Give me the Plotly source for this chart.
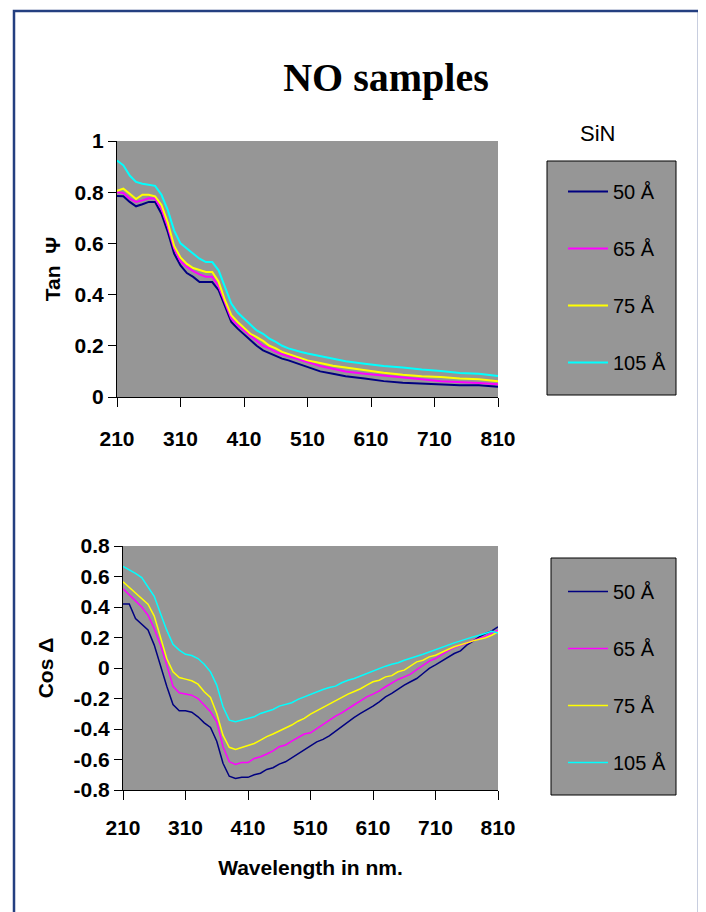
import plotly.graph_objects as go

# ---------------- data ----------------
series_names = ["50 Å", "65 Å", "75 Å", "105 Å"]
series_colors = ["#000080", "#FF00FF", "#FFFF00", "#00FFFF"]

wl_tan = [210, 220, 230, 240, 250, 260, 270, 280, 290, 300,
          310, 320, 330, 340, 350, 360, 370, 380, 390, 400,
          410, 420, 430, 440, 450, 460, 470, 480, 490, 500,
          510, 530, 550, 570, 600, 630, 660, 690, 720, 750, 780, 810]

tan_50 = [0.785, 0.784, 0.762, 0.745, 0.753, 0.762, 0.762, 0.716, 0.645, 0.56,
          0.514, 0.484, 0.469, 0.449, 0.449, 0.449, 0.417, 0.352, 0.293, 0.267,
          0.245, 0.221, 0.2, 0.182, 0.172, 0.159, 0.15, 0.143, 0.134, 0.124,
          0.115, 0.10, 0.091, 0.081, 0.072, 0.062, 0.056, 0.052, 0.05, 0.046, 0.046, 0.04]
tan_65 = [0.80, 0.797, 0.775, 0.762, 0.768, 0.776, 0.775, 0.735, 0.664, 0.58,
          0.53, 0.508, 0.492, 0.479, 0.47, 0.47, 0.432, 0.365, 0.306, 0.28,
          0.26, 0.237, 0.219, 0.2, 0.19, 0.176, 0.167, 0.159, 0.15, 0.143,
          0.134, 0.121, 0.11, 0.10, 0.091, 0.083, 0.075, 0.069, 0.062, 0.059, 0.055, 0.05]
tan_75 = [0.805, 0.814, 0.794, 0.773, 0.79, 0.79, 0.784, 0.75, 0.68, 0.59,
          0.545, 0.52, 0.504, 0.495, 0.488, 0.488, 0.45, 0.378, 0.32, 0.293,
          0.27, 0.247, 0.234, 0.219, 0.2, 0.19, 0.176, 0.167, 0.16, 0.152,
          0.143, 0.133, 0.122, 0.115, 0.104, 0.095, 0.087, 0.081, 0.078, 0.072, 0.069, 0.062]
tan_105 = [0.924, 0.905, 0.865, 0.84, 0.833, 0.83, 0.825, 0.79, 0.73, 0.65,
           0.60, 0.58, 0.56, 0.54, 0.527, 0.527, 0.495, 0.43, 0.365, 0.33,
           0.306, 0.286, 0.26, 0.247, 0.228, 0.215, 0.2, 0.19, 0.182, 0.176,
           0.17, 0.16, 0.152, 0.14, 0.13, 0.121, 0.115, 0.107, 0.102, 0.094, 0.091, 0.082]

wl_cos = [210, 220, 230, 240, 250, 260, 270, 280, 290, 300,
          310, 320, 330, 340, 350, 360, 370, 380, 390, 400,
          410, 420, 430, 440, 450, 460, 470, 480, 490, 500,
          510, 520, 530, 540, 550, 560, 570, 580, 590, 600,
          610, 620, 630, 640, 650, 660, 670, 680, 690, 700,
          710, 720, 730, 740, 750, 760, 770, 780, 790, 800, 810]

cos_50 = [0.42, 0.42, 0.325, 0.29, 0.25, 0.15, 0.01, -0.12, -0.24, -0.28,
          -0.28, -0.29, -0.32, -0.36, -0.39, -0.48, -0.625, -0.71, -0.725, -0.717,
          -0.717, -0.70, -0.69, -0.665, -0.654, -0.63, -0.615, -0.59, -0.56, -0.54,
          -0.51, -0.484, -0.468, -0.445, -0.414, -0.385, -0.357, -0.324, -0.298, -0.276,
          -0.25, -0.222, -0.19, -0.167, -0.139, -0.112, -0.09, -0.069, -0.036, -0.003,
          0.02, 0.045, 0.073, 0.095, 0.112, 0.15, 0.176, 0.204, 0.226, 0.243, 0.27]
cos_65 = [0.52, 0.477, 0.44, 0.40, 0.346, 0.258, 0.15, 0.02, -0.12, -0.163,
          -0.17, -0.178, -0.20, -0.243, -0.287, -0.353, -0.516, -0.615, -0.632, -0.62,
          -0.62, -0.593, -0.582, -0.564, -0.543, -0.516, -0.505, -0.48, -0.455, -0.433,
          -0.425, -0.398, -0.374, -0.346, -0.315, -0.294, -0.27, -0.241, -0.215, -0.189,
          -0.171, -0.15, -0.123, -0.10, -0.075, -0.058, -0.04, -0.01, 0.019, 0.045,
          0.062, 0.09, 0.112, 0.134, 0.15, 0.165, 0.182, 0.193, 0.208, 0.226, 0.248]
cos_75 = [0.565, 0.527, 0.492, 0.455, 0.418, 0.34, 0.204, 0.062, -0.025, -0.062,
          -0.073, -0.084, -0.106, -0.156, -0.193, -0.298, -0.44, -0.52, -0.534, -0.52,
          -0.505, -0.495, -0.473, -0.45, -0.433, -0.414, -0.396, -0.374, -0.349, -0.33,
          -0.302, -0.28, -0.254, -0.237, -0.21, -0.189, -0.171, -0.154, -0.136, -0.112,
          -0.09, -0.08, -0.058, -0.05, -0.025, -0.014, 0.012, 0.04, 0.051, 0.073,
          0.084, 0.1, 0.121, 0.139, 0.154, 0.165, 0.178, 0.187, 0.198, 0.215, 0.237]
cos_105 = [0.667, 0.645, 0.62, 0.593, 0.532, 0.47, 0.357, 0.248, 0.156, 0.117,
           0.09, 0.082, 0.062, 0.025, -0.025, -0.112, -0.254, -0.342, -0.353, -0.342,
           -0.33, -0.32, -0.298, -0.283, -0.272, -0.25, -0.237, -0.228, -0.206, -0.189,
           -0.176, -0.156, -0.141, -0.128, -0.119, -0.097, -0.08, -0.069, -0.053, -0.032,
           -0.018, -0.003, 0.012, 0.025, 0.034, 0.051, 0.062, 0.077, 0.09, 0.106,
           0.117, 0.134, 0.15, 0.165, 0.178, 0.193, 0.204, 0.215, 0.226, 0.241, 0.23]

x_ticks = [210, 310, 410, 510, 610, 710, 810]
x_ticktext = ["210", "310", "410", "510", "610", "710", "810"]
tan_ticks = [0, 0.2, 0.4, 0.6, 0.8, 1]
tan_ticktext = ["0", "0.2", "0.4", "0.6", "0.8", "1"]
cos_ticks = [-0.8, -0.6, -0.4, -0.2, 0, 0.2, 0.4, 0.6, 0.8]
cos_ticktext = ["-0.8", "-0.6", "-0.4", "-0.2", "0", "0.2", "0.4", "0.6", "0.8"]

tan_series = [tan_50, tan_65, tan_75, tan_105]
cos_series = [cos_50, cos_65, cos_75, cos_105]

# ---------------- figure ----------------
OFF = 8  # page body margin
W, H = 706 - OFF, 912 - OFF
def px(x):
    return (x - OFF) / W
def py(y):
    return 1 - (y - OFF) / H

fig = go.Figure()
for name, col, ys in zip(series_names, series_colors, tan_series):
    fig.add_trace(go.Scatter(x=wl_tan, y=ys, mode="lines", name=name,
                             line=dict(color=col, width=2),
                             xaxis="x", yaxis="y", legend="legend",
                             legendgroup="top" + name))
for name, col, ys in zip(series_names, series_colors, cos_series):
    fig.add_trace(go.Scatter(x=wl_cos, y=ys, mode="lines", name=name,
                             line=dict(color=col, width=1.5),
                             xaxis="x2", yaxis="y2", legend="legend2",
                             legendgroup="bot" + name))

tickfont = dict(family="Arial, Liberation Sans, sans-serif", size=21, color="black", weight="bold")
titlefont = dict(family="Arial, Liberation Sans, sans-serif", size=21, color="black", weight="bold")
common_x = dict(range=[210, 810], tickvals=x_ticks, ticktext=x_ticktext, showgrid=False,
                zeroline=False, showline=True, linecolor="black", linewidth=1,
                ticks="outside", ticklen=9, tickcolor="black", tickfont=tickfont,
                automargin=False)
common_y = dict(showgrid=False, zeroline=False, showline=True, linecolor="black", linewidth=1,
                ticks="outside", ticklen=8, tickcolor="black", tickfont=tickfont,
                automargin=False)

legend_common = dict(bgcolor="rgba(0,0,0,0)", borderwidth=0,
                     font=dict(family="Arial, Liberation Sans, sans-serif", size=20, color="black"),
                     tracegroupgap=28, xanchor="left", yanchor="top", itemwidth=40)

fig.update_layout(
    width=W, height=H,
    margin=dict(l=0, r=0, t=0, b=0),
    paper_bgcolor="white", plot_bgcolor="#969696",
    title=dict(text="<b>NO samples</b>", x=px(386), y=py(77), xanchor="center", yanchor="middle",
               font=dict(family="Times New Roman, Liberation Serif, serif", size=40, color="black")),
    xaxis=dict(domain=[px(117), px(498)], anchor="y", ticklabelstandoff=14, **common_x),
    yaxis=dict(domain=[py(397), py(141)], anchor="x", range=[0, 1],
               tickvals=tan_ticks, ticktext=tan_ticktext,
               title=dict(text="Tan  Ψ", font=titlefont, standoff=8), **common_y),
    xaxis2=dict(domain=[px(123), px(498)], anchor="y2", ticklabelstandoff=10,
                title=dict(text="Wavelength in nm.", font=titlefont, standoff=22), **common_x),
    yaxis2=dict(domain=[py(790), py(546)], anchor="x2", range=[-0.8, 0.8],
                tickvals=cos_ticks, ticktext=cos_ticktext,
                title=dict(text="Cos Δ", font=titlefont, standoff=14), **common_y),
    legend=dict(x=px(563), y=py(172), **legend_common),
    legend2=dict(x=px(563), y=py(572), **legend_common),
    showlegend=True,
)

# outer frame and legend boxes
fig.add_shape(type="rect", xref="paper", yref="paper", x0=px(14), x1=px(699), y0=py(11), y1=-0.05,
              line=dict(color="#243F80", width=2.5), fillcolor="rgba(0,0,0,0)", layer="above")
fig.add_shape(type="rect", xref="paper", yref="paper", x0=px(547), x1=px(676), y0=py(161), y1=py(395),
              line=dict(color="black", width=1), fillcolor="#969696", layer="above")
fig.add_shape(type="rect", xref="paper", yref="paper", x0=px(551), x1=px(676), y0=py(558), y1=py(795),
              line=dict(color="black", width=1), fillcolor="#969696", layer="above")

fig.add_annotation(text="SiN", xref="paper", yref="paper", x=px(597), y=py(133),
                   showarrow=False, xanchor="center", yanchor="middle",
                   font=dict(family="Arial, Liberation Sans, sans-serif", size=22, color="black"))

fig.write_html("out.html")
